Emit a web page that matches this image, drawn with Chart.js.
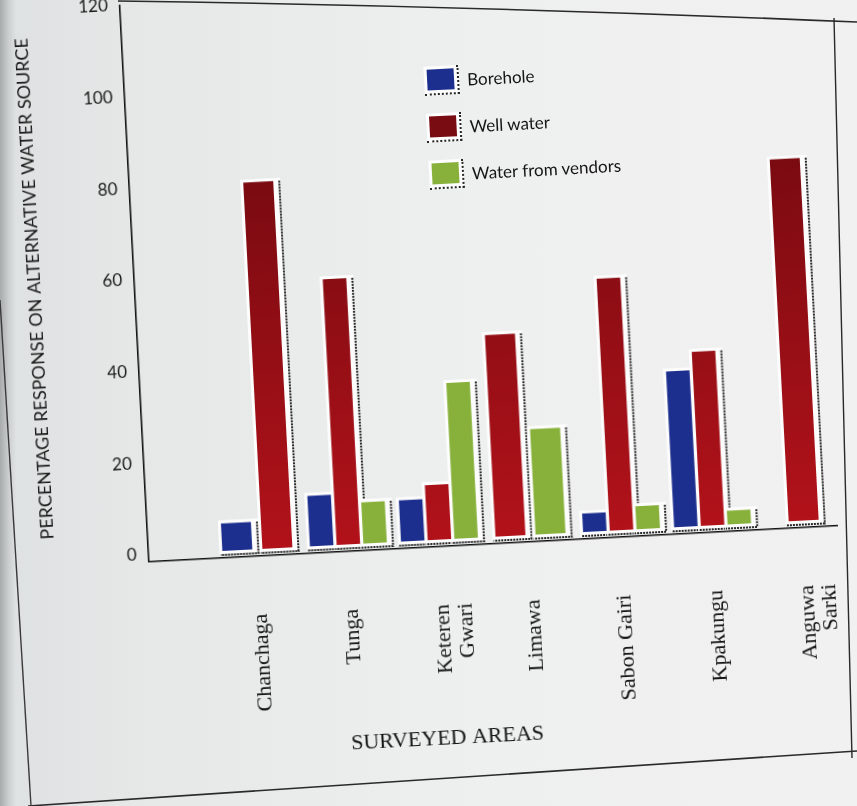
<!DOCTYPE html>
<html>
<head>
<meta charset="utf-8">
<script src="https://cdn.jsdelivr.net/npm/chart.js@4.4.1/dist/chart.umd.min.js"></script>
<style>
  html, body { margin: 0; padding: 0; width: 857px; height: 806px; overflow: hidden; }
  body {
    position: relative;
    background: linear-gradient(90deg, #a7abab 0px, #cdd0d0 9px, #dfe2e2 16px, #e6e8e8 140px, #eeefef 480px, #f2f1f1 857px);
  }
  #sheet {
    position: absolute; left: 0; top: -30px; width: 857px; height: 866px;
    transform: rotate(-3deg); transform-origin: 50% 50%;
  }
  #sheet canvas { position: absolute; left: 0; top: 0; }
  #legend {
    position: absolute; left: 441px; top: 88px;
    font-family: Lato, "Open Sans", sans-serif; font-size: 17px; color: #151515;
  }
  #legend .item { display: flex; align-items: center; height: 47px; }
  #legend .frame {
    display: inline-block; padding: 3px; background: #fdfdfd;
    border-right: 2px dotted #262626; border-bottom: 2px dotted #262626;
    margin-right: 8px;
  }
  #legend .sw { display: block; width: 27px; height: 21px; }
  svg.edges { position: absolute; left: 0; top: 0; pointer-events: none; }
</style>
</head>
<body>
<div id="sheet">
  <canvas id="chart" width="857" height="866"></canvas>
  <div id="legend"></div>
</div>
<svg class="edges" width="857" height="806">
  <path d="M118,1 Q480,6 857,22" fill="none" stroke="#2a2a2a" stroke-width="1.6"/>
  <path d="M834,18 L852,758" fill="none" stroke="#2a2a2a" stroke-width="1.4"/>
  <path d="M28,806 L857,751" fill="none" stroke="#2a2a2a" stroke-width="1.6"/>
  <path d="M0,300 L31,806" fill="none" stroke="#3a3a3a" stroke-width="1.4"/>
</svg>
<script>
// Surveyed areas and percentage response per alternative water source
const areas = ['Chanchaga', 'Tunga', ['Keteren', 'Gwari'], 'Limawa', 'Sabon Gairi', 'Kpakungu', ['Anguwa', 'Sarki']];
const sourceNames = ['Borehole', 'Well water', 'Water from vendors'];
const borehole  = [6, 11, 9, null, 4, 34, null];
const wellWater = [80, 58, 12, 44, 55, 38, 79];
const vendors   = [null, 9, 34, 23, 5, 3, null];
const yTicks = [0, 20, 40, 60, 80, 100, 120];

const blue = '#1d2f8e';
const green = '#88b13c';
const maroon = '#780c12';

function points(values) {
  return values.map((v, i) => ({ x: i, y: v }));
}

// well-water bars shade from dark maroon at the top to bright red near the axis
function redShade(ctx) {
  const area = ctx.chart.chartArea;
  if (!area) return maroon;
  const g = ctx.chart.ctx.createLinearGradient(0, area.top, 0, area.bottom);
  g.addColorStop(0, '#5f070b');
  g.addColorStop(0.35, '#7c0b11');
  g.addColorStop(1, '#b3121a');
  return g;
}

// white mat and dotted drop shadow behind every bar
const barFrames = {
  id: 'barFrames',
  beforeDatasetsDraw(chart) {
    const ctx = chart.ctx;
    ctx.save();
    chart.data.datasets.forEach((ds, di) => {
      const meta = chart.getDatasetMeta(di);
      meta.data.forEach((bar, i) => {
        if (ds.data[i].y == null) return;
        const { x, y, base, width } = bar.getProps(['x', 'y', 'base', 'width'], true);
        const l = x - width / 2, r = x + width / 2;
        ctx.fillStyle = '#fdfdfd';
        ctx.fillRect(l - 3, y - 3, width + 10, base - y + 8);
        ctx.strokeStyle = '#242424';
        ctx.lineWidth = 2;
        ctx.setLineDash([2, 1]);
        ctx.beginPath();
        ctx.moveTo(r + 6, y);
        ctx.lineTo(r + 6, base + 4);
        ctx.lineTo(l - 2, base + 4);
        ctx.stroke();
      });
    });
    ctx.restore();
  }
};

const chart = new Chart(document.getElementById('chart'), {
  type: 'bar',
  data: {
    datasets: [
      { label: sourceNames[0], data: points(borehole), backgroundColor: blue, swatch: blue },
      { label: sourceNames[1], data: points(wellWater), backgroundColor: redShade, swatch: maroon },
      { label: sourceNames[2], data: points(vendors), backgroundColor: green, swatch: green }
    ]
  },
  plugins: [barFrames],
  options: {
    responsive: false,
    animation: false,
    skipNull: true,
    categoryPercentage: 0.88,
    barPercentage: 0.88,
    maxBarThickness: 30,
    layout: { padding: { left: 30, right: 27, top: 20, bottom: 0 } },
    plugins: {
      legend: { display: false },
      tooltip: { enabled: false },
      title: {
        display: true,
        position: 'bottom',
        text: 'SURVEYED AREAS',
        color: '#141414',
        font: { family: '"Liberation Serif", "Times New Roman", serif', size: 22, weight: 'normal', lineHeight: 1.2 },
        padding: { top: 0, bottom: 84 }
      }
    },
    scales: {
      x: {
        type: 'linear',
        offset: false,
        bounds: 'data',
        min: -1.195,
        max: 6.362,
        grid: { display: false, drawTicks: false, offset: false },
        border: { display: true, color: '#111', width: 1.6 },
        afterBuildTicks(scale) {
          scale.ticks = areas.map((_, i) => ({ value: i }));
        },
        afterFit(scale) {
          scale.height = 178.85;
          scale.paddingLeft = 0;
          scale.paddingRight = 0;
        },
        ticks: {
          autoSkip: false,
          minRotation: 90,
          maxRotation: 90,
          padding: 58,
          color: '#141414',
          font: { family: '"Liberation Serif", "Times New Roman", serif', size: 22, lineHeight: 1.02 },
          callback: (v) => areas[v]
        }
      },
      y: {
        min: -1.5,
        max: 120,
        grid: { display: false, drawTicks: false },
        border: { display: true, color: '#111', width: 1.6 },
        afterBuildTicks(scale) {
          scale.ticks = yTicks.map(v => ({ value: v }));
        },
        afterFit(scale) {
          scale.width = 111;
          scale.paddingTop = 0;
          scale.paddingBottom = 0;
        },
        ticks: {
          padding: 12,
          color: '#1a1a1a',
          font: { family: 'Lato, "Open Sans", sans-serif', size: 17 }
        },
        title: {
          display: true,
          text: 'PERCENTAGE RESPONSE ON ALTERNATIVE WATER SOURCE',
          color: '#1a1a1a',
          font: { family: 'Lato, "Open Sans", sans-serif', size: 18, lineHeight: 1.2 },
          padding: { top: 0, bottom: 0 }
        }
      }
    }
  }
});

// vertical legend built from the datasets
const legendBox = document.getElementById('legend');
chart.data.datasets.forEach(ds => {
  const item = document.createElement('div');
  item.className = 'item';
  const frame = document.createElement('span');
  frame.className = 'frame';
  const sw = document.createElement('span');
  sw.className = 'sw';
  sw.style.background = ds.swatch;
  frame.appendChild(sw);
  const txt = document.createElement('span');
  txt.textContent = ds.label;
  item.appendChild(frame);
  item.appendChild(txt);
  legendBox.appendChild(item);
});
</script>
</body>
</html>
